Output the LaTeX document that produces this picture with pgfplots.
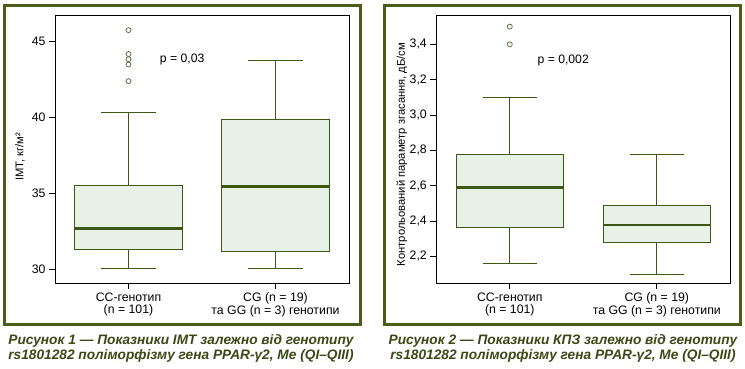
\documentclass[border=0pt]{standalone}
\usepackage{pgfplots}
\pgfplotsset{compat=1.18}
\usepgfplotslibrary{statistics}
\usepackage{fontspec}
\setmainfont{Liberation Sans}
\definecolor{framec}{RGB}{74,94,26}
\definecolor{boxc}{RGB}{62,88,20}
\definecolor{boxf}{RGB}{232,241,230}
\definecolor{outc}{RGB}{95,115,75}
\definecolor{capc}{RGB}{58,72,22}
\pgfplotsset{
  mybox/.style={
    scale only axis, width=294pt, height=268pt,
    xmin=0.5, xmax=2.5, xtick={1,2},
    xticklabels={{CC-генотип\\(n = 101)},{CG (n = 19)\\та GG (n = 3) генотипи}},
    xticklabel style={align=center, font=\fontsize{12.3}{12.7}\selectfont},
    yticklabel style={font=\fontsize{12.3}{13}\selectfont},
    tick align=outside, tick pos=left,
    major tick length=6pt,
    tick style={black, line width=0.7pt},
    axis line style={black, line width=0.8pt},
    /pgf/number format/assume math mode=true,
    /pgf/number format/use comma,
    boxplot/draw direction=y,
    boxplot/box extend=0.73,
    boxplot/whisker extend=0.37,
    boxplot/every median/.style={line width=2.6pt},
  },
  bstyle/.style={draw=boxc, fill=boxf, line width=0.9pt, mark=o, mark size=2.5pt, mark options={draw=outc, fill=none, line width=0.8pt}},
}
\begin{document}
\begin{tikzpicture}
\useasboundingbox (0,0) rectangle (745pt,368pt);
% frames
\draw[framec, line width=3pt] (4.5pt,363pt) rectangle (360.5pt,43.5pt);
\draw[framec, line width=3pt] (384.5pt,363pt) rectangle (740.5pt,43.5pt);
% left chart
\begin{axis}[mybox, at={(55pt,85pt)}, anchor=south west,
  ymin=29.07, ymax=46.77, ytick={30,35,40,45}]
\addplot[bstyle, boxplot prepared={draw position=1, lower whisker=30.0, lower quartile=31.28, median=32.67, upper quartile=35.48, upper whisker=40.33}]
  table[row sep=\\, y index=0]{45.77\\44.19\\43.85\\43.5\\42.4\\};
\addplot[bstyle, boxplot prepared={draw position=2, lower whisker=30.05, lower quartile=31.15, median=35.44, upper quartile=39.87, upper whisker=43.77}]
  coordinates {};
\node[anchor=west, font=\fontsize{12.2}{13}\selectfont] at (axis cs:1.19,43.8) {p = 0,03};
\end{axis}
% right chart
\begin{axis}[mybox, at={(436.3pt,85pt)}, anchor=south west,
  ymin=2.049, ymax=3.566, ytick={2.2,2.4,2.6,2.8,3.0,3.2,3.4},
  yticklabel style={/pgf/number format/fixed, /pgf/number format/fixed zerofill, /pgf/number format/precision=1}]
\addplot[bstyle, boxplot prepared={draw position=1, lower whisker=2.16, lower quartile=2.362, median=2.59, upper quartile=2.774, upper whisker=3.10}]
  table[row sep=\\, y index=0]{3.50\\3.40\\};
\addplot[bstyle, boxplot prepared={draw position=2, lower whisker=2.098, lower quartile=2.28, median=2.377, upper quartile=2.487, upper whisker=2.774}]
  coordinates {};
\node[anchor=west, font=\fontsize{12.2}{13}\selectfont] at (axis cs:1.165,3.31) {p = 0,002};
\end{axis}
% y labels
\node[rotate=90, font=\fontsize{11.2}{12}\selectfont] at (20pt,211pt) {IMT, кг/м²};
\node[rotate=90, font=\fontsize{11.2}{12}\selectfont] at (402pt,213.5pt) {Контрольований параметр згасання, дБ/см};
% captions
\node[text=capc, font=\fontsize{13.7}{14}\selectfont\bfseries\itshape] at (181pt,27pt) {Рисунок 1 — Показники IMT залежно від генотипу};
\node[text=capc, font=\fontsize{13.7}{14}\selectfont\bfseries\itshape] at (181pt,12pt) {rs1801282 поліморфізму гена PPAR-γ2, Me (QI–QIII)};
\node[text=capc, font=\fontsize{13.7}{14}\selectfont\bfseries\itshape] at (563pt,27pt) {Рисунок 2 — Показники КПЗ залежно від генотипу};
\node[text=capc, font=\fontsize{13.7}{14}\selectfont\bfseries\itshape] at (563pt,12pt) {rs1801282 поліморфізму гена PPAR-γ2, Me (QI–QIII)};
\end{tikzpicture}
\end{document}
